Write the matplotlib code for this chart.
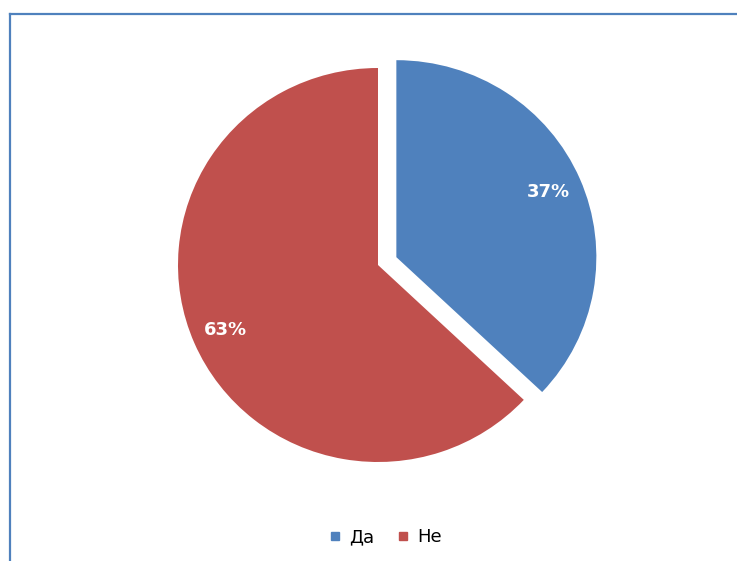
import matplotlib.pyplot as plt
from matplotlib.lines import Line2D

labels = ['Да', 'Не']
values = [37, 63]
colors = ['#4F81BD', '#C0504D']
explode = [0.1, 0]

W, H = 737, 561
fig = plt.figure(figsize=(W / 100, H / 100), dpi=100)

# pie centre and radius in pixels (the original is slightly wider than tall)
cx, cy, rx, ry = 378, 265, 200, 197
half = 260
ax = fig.add_axes([(cx - half) / W, (H - cy - half) / H, 2 * half / W, 2 * half / H])

wedges, texts, autotexts = ax.pie(values, colors=colors, explode=explode, startangle=90,
                                  counterclock=False, autopct='%d%%', pctdistance=0.83,
                                  radius=1, frame=True,
                                  textprops=dict(color='white', fontsize=13, fontweight='bold'))
ax.set_aspect('auto')
ax.set_xlim(-half / rx, half / rx)
ax.set_ylim(-half / ry, half / ry)
ax.set_axis_off()

# partial frame (left and top edges)
border = '#4F81BD'
fig.add_artist(Line2D([10 / W, 10 / W], [0, 1 - 14 / H], color=border, lw=1.6,
                      transform=fig.transFigure))
fig.add_artist(Line2D([10 / W, 1], [1 - 14 / H, 1 - 14 / H], color=border, lw=1.6,
                      transform=fig.transFigure))

handles = [Line2D([], [], marker='s', linestyle='none', markersize=6,
                  markerfacecolor=c, markeredgecolor=c) for c in colors]
fig.legend(handles, labels, loc='center', bbox_to_anchor=(385 / W, 1 - 537 / H), ncol=2,
           frameon=False, fontsize=13, handlelength=0.8, handletextpad=0.4, columnspacing=1.2)

fig.savefig('out.png', dpi=100)
